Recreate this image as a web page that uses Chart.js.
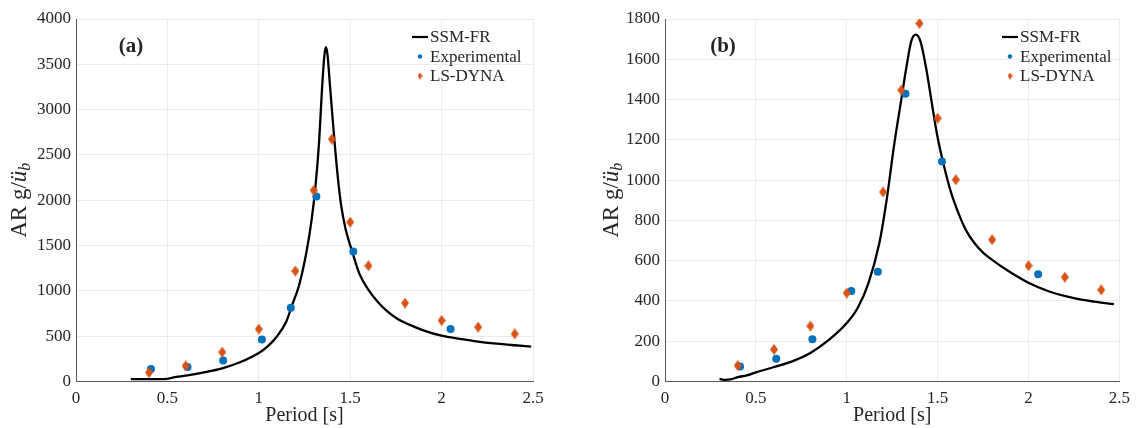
<!DOCTYPE html>
<html>
<head>
<meta charset="utf-8">
<script src="https://cdn.jsdelivr.net/npm/chart.js@4.4.1/dist/chart.umd.min.js"></script>
<style>
  body { margin: 0; background: #fff; }
  .panel { position: absolute; top: 0; }
  #wrapA { left: 0; }
  #wrapB { left: 570px; }
</style>
</head>
<body>
<div class="panel" id="wrapA"><canvas id="chartA" width="570" height="428"></canvas></div>
<div class="panel" id="wrapB"><canvas id="chartB" width="567" height="428"></canvas></div>
<script>
// ---- panel (a) ----
const ssmPeriodA = [0.30, 0.40, 0.48, 0.55, 0.60, 0.70, 0.80, 0.90, 1.00, 1.05, 1.10, 1.15, 1.18, 1.22, 1.26, 1.29, 1.31, 1.33, 1.345, 1.358, 1.366, 1.375, 1.39, 1.41, 1.43, 1.45, 1.475, 1.51, 1.55, 1.60, 1.65, 1.70, 1.76, 1.82, 1.90, 2.00, 2.10, 2.20, 2.30, 2.40, 2.49];
const ssmA = [26, 26, 26, 50, 64, 100, 145, 215, 315, 390, 500, 660, 830, 1060, 1420, 1800, 2150, 2650, 3200, 3580, 3690, 3620, 3250, 2750, 2300, 1950, 1680, 1440, 1190, 1010, 880, 780, 690, 630, 565, 505, 470, 440, 418, 400, 385];
const expPeriodA = [0.41, 0.61, 0.805, 1.017, 1.175, 1.315, 1.517, 2.049];
const expA = [137, 159, 232, 464, 814, 2042, 1435, 578];
const dynaPeriod = [0.4, 0.6, 0.8, 1.0, 1.2, 1.3, 1.4, 1.5, 1.6, 1.8, 2.0, 2.2, 2.4];
const dynaA = [99, 173, 324, 578, 1219, 2109, 2675, 1759, 1277, 865, 673, 600, 526];

// ---- panel (b) ----
const ssmPeriodB = [0.30, 0.33, 0.36, 0.40, 0.45, 0.50, 0.60, 0.70, 0.80, 0.90, 1.00, 1.06, 1.12, 1.18, 1.22, 1.26, 1.30, 1.33, 1.355, 1.38, 1.405, 1.435, 1.465, 1.495, 1.535, 1.575, 1.615, 1.655, 1.70, 1.75, 1.80, 1.90, 2.00, 2.11, 2.25, 2.36, 2.47];
const ssmB = [13, 8, 10, 22, 30, 45, 72, 100, 142, 205, 290, 365, 490, 690, 905, 1170, 1400, 1570, 1690, 1722, 1690, 1565, 1400, 1235, 1070, 935, 835, 753, 690, 640, 604, 542, 490, 448, 414, 397, 384];
const expPeriodB = [0.413, 0.612, 0.811, 1.025, 1.171, 1.323, 1.524, 2.053];
const expB = [75, 113, 210, 449, 545, 1429, 1093, 532];
const dynaB = [79, 159, 275, 439, 941, 1447, 1778, 1307, 1002, 704, 575, 518, 455];

const xTicks = [0, 0.5, 1, 1.5, 2, 2.5];
const legendNames = ['SSM-FR', 'Experimental', 'LS-DYNA'];

const blue = '#0072BD';
const orange = '#D95319';
const textColor = '#262626';
const gridColor = '#ebebeb';
const serif = '"Liberation Serif", "Times New Roman", serif';

// tall diamond marker used for the LS-DYNA points
function makeDiamond(w, h, color) {
  const c = document.createElement('canvas');
  c.width = w; c.height = h;
  const g = c.getContext('2d');
  g.fillStyle = color;
  g.beginPath();
  g.moveTo(w / 2, 0);
  g.lineTo(w, h / 2);
  g.lineTo(w / 2, h);
  g.lineTo(0, h / 2);
  g.closePath();
  g.fill();
  return c;
}
const diamond = makeDiamond(8, 11, orange);

function pts(xs, ys) {
  return xs.map((x, i) => ({ x: x, y: ys[i] }));
}

// axis titles, panel tag and the in-plot legend
const decorPlugin = {
  id: 'decor',
  afterDraw(chart, args, opts) {
    const ctx = chart.ctx;
    const area = chart.chartArea;
    ctx.save();
    ctx.fillStyle = textColor;

    ctx.font = '20px ' + serif;
    ctx.textAlign = 'center';
    ctx.textBaseline = 'middle';
    ctx.fillText('Period [s]', (area.left + area.right) / 2, 416);

    // y title: AR g/ü with subscript b
    ctx.translate(opts.yTitleX, (area.top + area.bottom) / 2);
    ctx.rotate(-Math.PI / 2);
    ctx.textAlign = 'left';
    ctx.textBaseline = 'middle';
    const part1 = 'AR g/';
    ctx.font = '23px ' + serif;
    const w1 = ctx.measureText(part1).width;
    ctx.font = 'italic 23px ' + serif;
    const w2 = ctx.measureText('ü').width;
    ctx.font = 'italic 16px ' + serif;
    const w3 = ctx.measureText('b').width;
    let x0 = -(w1 + w2 + w3) / 2;
    ctx.font = '23px ' + serif;
    ctx.fillText(part1, x0, 0);
    ctx.font = 'italic 23px ' + serif;
    ctx.fillText('ü', x0 + w1, 0);
    ctx.font = 'italic 16px ' + serif;
    ctx.fillText('b', x0 + w1 + w2, 6);
    ctx.setTransform(1, 0, 0, 1, 0, 0);

    ctx.font = 'bold 21px ' + serif;
    ctx.textAlign = 'center';
    ctx.fillText(opts.tag, opts.tagX, 47);

    // legend
    const lx = opts.legendX;
    const rows = [37, 56.5, 76];
    ctx.strokeStyle = '#000';
    ctx.lineWidth = 2.2;
    ctx.beginPath();
    ctx.moveTo(lx, rows[0]);
    ctx.lineTo(lx + 16, rows[0]);
    ctx.stroke();
    ctx.fillStyle = blue;
    ctx.beginPath();
    ctx.arc(lx + 8, rows[1], 2.2, 0, Math.PI * 2);
    ctx.fill();
    ctx.drawImage(makeDiamond(5, 7, orange), lx + 5.5, rows[2] - 3.5);
    ctx.fillStyle = textColor;
    ctx.font = '17px ' + serif;
    ctx.textAlign = 'left';
    legendNames.forEach((name, i) => ctx.fillText(name, lx + 18, rows[i] + 1));
    ctx.restore();
  }
};

function buildChart(canvasId, cfg) {
  const tickFont = { family: serif, size: 17 };
  return new Chart(document.getElementById(canvasId), {
    type: 'scatter',
    data: {
      datasets: [
        {
          label: legendNames[0],
          type: 'line',
          data: pts(cfg.curveX, cfg.curveY),
          borderColor: '#000',
          borderWidth: 2.3,
          pointRadius: 0,
          cubicInterpolationMode: 'monotone',
          fill: false,
          order: 3
        },
        {
          label: legendNames[1],
          data: pts(cfg.expX, cfg.expY),
          backgroundColor: blue,
          borderWidth: 0,
          pointRadius: 4,
          order: 2
        },
        {
          label: legendNames[2],
          data: pts(dynaPeriod, cfg.dynaY),
          pointStyle: diamond,
          order: 1
        }
      ]
    },
    options: {
      responsive: false,
      animation: false,
      devicePixelRatio: 1,
      layout: { padding: { top: 19, right: cfg.rightPad, left: 0, bottom: 0 } },
      plugins: {
        legend: { display: false },
        tooltip: { enabled: false },
        decor: { tag: cfg.tag, tagX: cfg.tagX, yTitleX: cfg.yTitleX, legendX: cfg.legendX }
      },
      scales: {
        x: {
          type: 'linear',
          min: 0,
          max: 2.5,
          afterBuildTicks: s => { s.ticks = xTicks.map(v => ({ value: v })); },
          afterFit: s => { s.height = 46.5; },
          ticks: { font: tickFont, color: textColor, padding: 7, maxRotation: 0, callback: v => String(v) },
          grid: { color: gridColor, drawTicks: false },
          border: { color: '#595959' }
        },
        y: {
          min: 0,
          max: cfg.yMax,
          afterFit: s => { s.width = cfg.leftW; },
          ticks: { stepSize: cfg.yStep, font: tickFont, color: textColor, padding: 5, callback: v => String(v) },
          grid: { color: gridColor, drawTicks: false },
          border: { color: '#595959' }
        }
      }
    },
    plugins: [decorPlugin]
  });
}

buildChart('chartA', {
  curveX: ssmPeriodA, curveY: ssmA, expX: expPeriodA, expY: expA, dynaY: dynaA,
  yMax: 4000, yStep: 500, leftW: 76, rightPad: 37,
  tag: '(a)', tagX: 131, yTitleX: 20, legendX: 412
});
buildChart('chartB', {
  curveX: ssmPeriodB, curveY: ssmB, expX: expPeriodB, expY: expB, dynaY: dynaB,
  yMax: 1800, yStep: 200, leftW: 95, rightPad: 14,
  tag: '(b)', tagX: 153, yTitleX: 42, legendX: 432
});
</script>
</body>
</html>
